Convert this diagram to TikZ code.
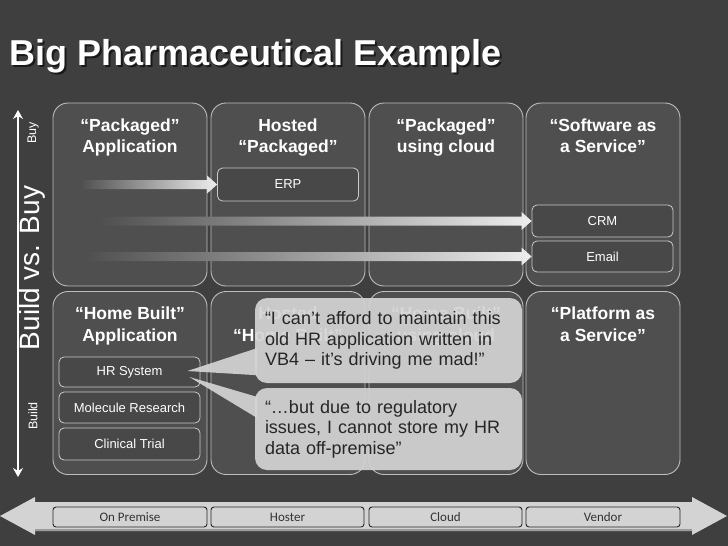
\documentclass[tikz,border=0pt]{standalone}
\usepackage{fontspec}
\setmainfont{Liberation Sans}
\newfontfamily\calibri{Carlito}
\usetikzlibrary{calc,arrows.meta}

\definecolor{slidebg}{HTML}{3F3F3F}
\definecolor{panelfill}{HTML}{4F4F4F}
\definecolor{panelline}{HTML}{BDBDBD}
\definecolor{chipfill}{HTML}{484848}
\definecolor{bubblefill}{HTML}{D4D4D4}
\definecolor{bubbletext}{HTML}{262626}
\definecolor{barfill}{HTML}{D3D3D3}
\definecolor{barshade}{HTML}{9C9C9C}

\tikzset{
  panel/.style={draw=panelline, line width=0.9pt, fill=panelfill, rounded corners=15pt,
    minimum width=154pt, minimum height=183pt, inner sep=0pt},
  paneltitle/.style={text=white, font=\fontsize{17.5}{21.5}\selectfont\bfseries,
    align=center, inner sep=0pt, anchor=north},
  chip/.style={draw=panelline!80, line width=0.8pt, fill=chipfill, rounded corners=5pt,
    minimum width=141pt, text=white, font=\fontsize{13}{15}\selectfont, inner sep=0pt},
  bubble/.style={fill=bubblefill, fill opacity=0.92, text opacity=1, rounded corners=12pt,
    minimum width=267pt, text width=247pt, align=left, inner sep=10pt,
    text=bubbletext, font=\fontsize{18}{20.5}\selectfont},
  tag/.style={draw=black!85, line width=0.9pt, fill=barfill, rounded corners=3pt,
    minimum width=153pt, minimum height=20pt, inner sep=0pt, text=black!80,
    font=\calibri\fontsize{13}{15}\selectfont},
  axislabel/.style={text=white, rotate=90, inner sep=0pt},
}

% fading block arrow from a start coordinate to a tip
\newcommand{\fadearrow}[2]{%
  \shade[left color=panelfill, right color=white!93!black]
    ($(#1)+(0,-4.5)$) -- ($(#2)+(-10,-4.5)$) -- ($(#2)+(-10,-9)$) -- (#2)
    -- ($(#2)+(-10,9)$) -- ($(#2)+(-10,4.5)$) -- ($(#1)+(0,4.5)$) -- cycle;
}

\begin{document}
\begin{tikzpicture}[x=1pt, y=-1pt]
  \useasboundingbox[fill=slidebg] (0,0) rectangle (728,546);

  % title
  \node[anchor=base west, text=black, opacity=0.6, inner sep=0pt,
        font=\fontsize{36}{40}\selectfont\bfseries] (titleshadow) at (11,67) {Big Pharmaceutical Example};
  \node[anchor=base west, text=white, inner sep=0pt,
        font=\fontsize{36}{40}\selectfont\bfseries] (title) at (9,65) {Big Pharmaceutical Example};

  % build vs buy axis
  \coordinate (buildend) at (18,477);
  \coordinate (buyend) at (18,110);
  \draw[white, line width=1.6pt, {Stealth[length=9pt, width=10pt, inset=3pt]}-{Stealth[length=9pt, width=10pt, inset=3pt]}]
    (buildend) -- (buyend);
  \node[axislabel, font=\fontsize{12.5}{14}\selectfont] (buylbl) at (33,133) {Buy};
  \node[axislabel, font=\fontsize{28}{30}\selectfont] (axislbl) at (32,268) {Build vs. Buy};
  \node[axislabel, font=\fontsize{12.5}{14}\selectfont] (buildlbl) at (33,416) {Build};

  % upper row
  \node[panel] (pkgapp) at (130,194.5) {};
  \node[panel] (hostpkg) at (288,194.5) {};
  \node[panel] (pkgcloud) at (446,194.5) {};
  \node[panel] (saas) at (603,194.5) {};
  \node[paneltitle] (pkgapptitle) at ($(pkgapp.north)+(0,16)$) {“Packaged”\\Application};
  \node[paneltitle] (hostpkgtitle) at ($(hostpkg.north)+(0,16)$) {Hosted\\“Packaged”};
  \node[paneltitle] (pkgcloudtitle) at ($(pkgcloud.north)+(0,16)$) {“Packaged”\\using cloud};
  \node[paneltitle] (saastitle) at ($(saas.north)+(0,16)$) {“Software as\\a Service”};

  % lower row
  \node[panel] (homeapp) at (130,383) {};
  \node[panel] (hosthome) at (288,383) {};
  \node[panel] (homecloud) at (446,383) {};
  \node[panel] (paas) at (603,383) {};
  \node[paneltitle] (homeapptitle) at ($(homeapp.north)+(0,16)$) {“Home Built”\\Application};
  \node[paneltitle] (hosthometitle) at ($(hosthome.north)+(0,16)$) {Hosted\\“Home Built”};
  \node[paneltitle] (homecloudtitle) at ($(homecloud.north)+(0,16)$) {“Home Built”\\using cloud};
  \node[paneltitle] (paastitle) at ($(paas.north)+(0,16)$) {“Platform as\\a Service”};

  % systems
  \node[chip, minimum height=33pt] (erp) at (288,184.5) {ERP};
  \node[chip, minimum height=32pt] (crm) at (602.5,221) {CRM};
  \node[chip, minimum height=31pt] (email) at (602.5,256.5) {Email};
  \node[chip, minimum height=30pt] (hr) at (129.5,372) {HR System};
  \node[chip, minimum height=31pt] (molecule) at (129.5,407.5) {Molecule Research};
  \node[chip, minimum height=32pt] (clinical) at (129.5,444) {Clinical Trial};

  % moves
  \coordinate (erpfrom) at ($(erp.west)-(137,0)$);
  \coordinate (crmfrom) at ($(crm.west)-(432,0)$);
  \coordinate (emailfrom) at ($(email.west)-(447,0)$);
  \fadearrow{erpfrom}{erp.west}
  \fadearrow{crmfrom}{crm.west}
  \fadearrow{emailfrom}{email.west}

  % quotes
  \node[bubble, minimum height=85pt] (quoteafford) at (388.5,340.5)
    {“I can’t afford to maintain this\\old HR application written in\\VB4 – it’s driving me mad!”};
  \node[bubble, minimum height=82pt] (quoteregulate) at (388.5,429)
    {“…but due to regulatory\\issues, I cannot store my HR\\data off-premise”};
  \coordinate (hrtipa) at ($(hr.east)+(-13,-1)$);
  \coordinate (hrtipb) at ($(hr.east)+(-11,5)$);
  \fill[bubblefill, fill opacity=0.92] (hrtipa) -- ($(quoteafford.south west)+(2,-35)$)
    -- ($(quoteafford.south west)+(2,-8)$) -- cycle;
  \fill[bubblefill, fill opacity=0.92] (hrtipb) -- ($(quoteregulate.north west)+(2,9)$)
    -- ($(quoteregulate.north west)+(2,30)$) -- cycle;

  % hosting axis
  \fill[barfill] (0,516) -- (35,497) -- (35,502) -- (692,502) -- (692,497) -- (727,516)
    -- (692,535) -- (692,531) -- (35,531) -- (35,535) -- cycle;
  \fill[barshade] (35,528.5) rectangle (692,531);
  \node[tag, minimum width=154pt] (onprem) at (130,517) {On Premise};
  \node[tag] (hoster) at (287.5,517) {Hoster};
  \node[tag] (cloud) at (445.5,517) {Cloud};
  \node[tag, minimum width=154pt] (vendor) at (603,517) {Vendor};
\end{tikzpicture}
\end{document}
